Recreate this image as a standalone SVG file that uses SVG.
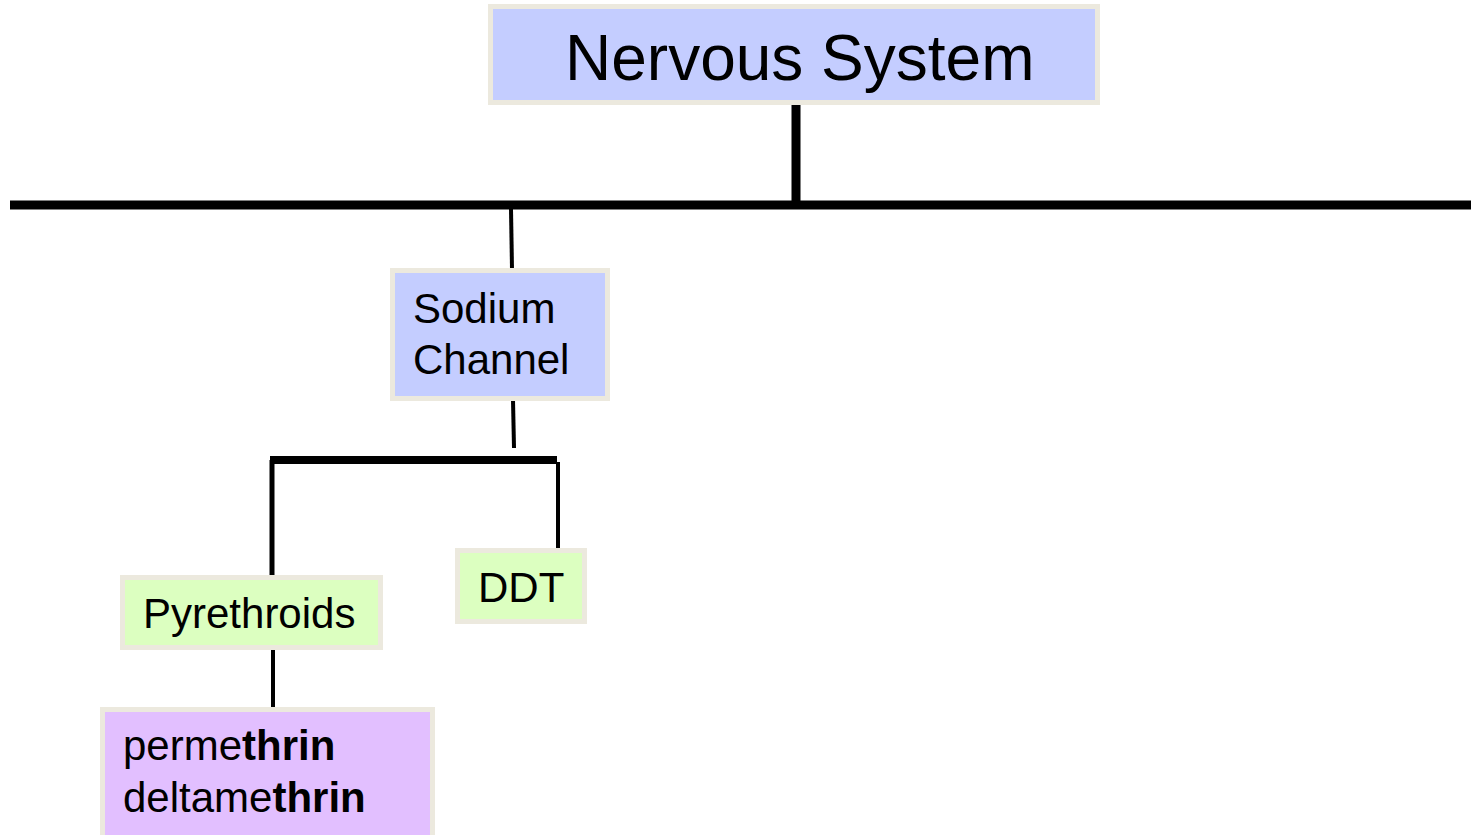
<svg xmlns="http://www.w3.org/2000/svg" width="1471" height="835" viewBox="0 0 1471 835">
  <style>
    .box { stroke: #ece9de; stroke-width: 5; }
    .blue { fill: #c4cdff; }
    .green { fill: #dcffc0; }
    .purple { fill: #e2bfff; }
    .lbl { font-family: "Liberation Sans", Arial, sans-serif; font-size: 42px; fill: #000; }
    .title { font-size: 64px; }
    .b { font-weight: bold; }
    .wire { stroke: #000; fill: none; stroke-linecap: butt; }
  </style>
  <rect width="1471" height="835" fill="#ffffff"/>

  <!-- connectors -->
  <g id="connectors" class="wire">
    <line x1="796" y1="105" x2="796" y2="205" stroke-width="9"/>
    <line x1="10" y1="205" x2="1471" y2="205" stroke-width="9"/>
    <line x1="511" y1="209" x2="512" y2="269" stroke-width="4"/>
    <line x1="513" y1="400" x2="514" y2="448" stroke-width="4"/>
    <line x1="270" y1="460" x2="557" y2="460" stroke-width="8"/>
    <line x1="272" y1="460" x2="272" y2="576" stroke-width="5"/>
    <line x1="558" y1="462" x2="558" y2="549" stroke-width="4"/>
    <line x1="273" y1="649" x2="273" y2="708" stroke-width="4"/>
  </g>

  <g id="nervous-system">
    <rect class="box blue" x="490.5" y="6.5" width="607" height="96"/>
    <text class="lbl title" x="565" y="80">Nervous System</text>
  </g>

  <g id="sodium-channel">
    <rect class="box blue" x="392.5" y="270.5" width="215" height="128"/>
    <text class="lbl" x="413" y="323">Sodium</text>
    <text class="lbl" x="413" y="374">Channel</text>
  </g>

  <g id="pyrethroids">
    <rect class="box green" x="122.5" y="577.5" width="258" height="70"/>
    <text class="lbl" x="143" y="628">Pyrethroids</text>
  </g>

  <g id="ddt">
    <rect class="box green" x="457.5" y="550.5" width="127" height="71"/>
    <text class="lbl" x="478" y="602">DDT</text>
  </g>

  <g id="pyrethroid-examples">
    <rect class="box purple" x="102.5" y="709.5" width="330" height="140"/>
    <text class="lbl" x="123" y="760">perme<tspan class="b">thrin</tspan></text>
    <text class="lbl" x="123" y="812">deltame<tspan class="b">thrin</tspan></text>
  </g>
</svg>
